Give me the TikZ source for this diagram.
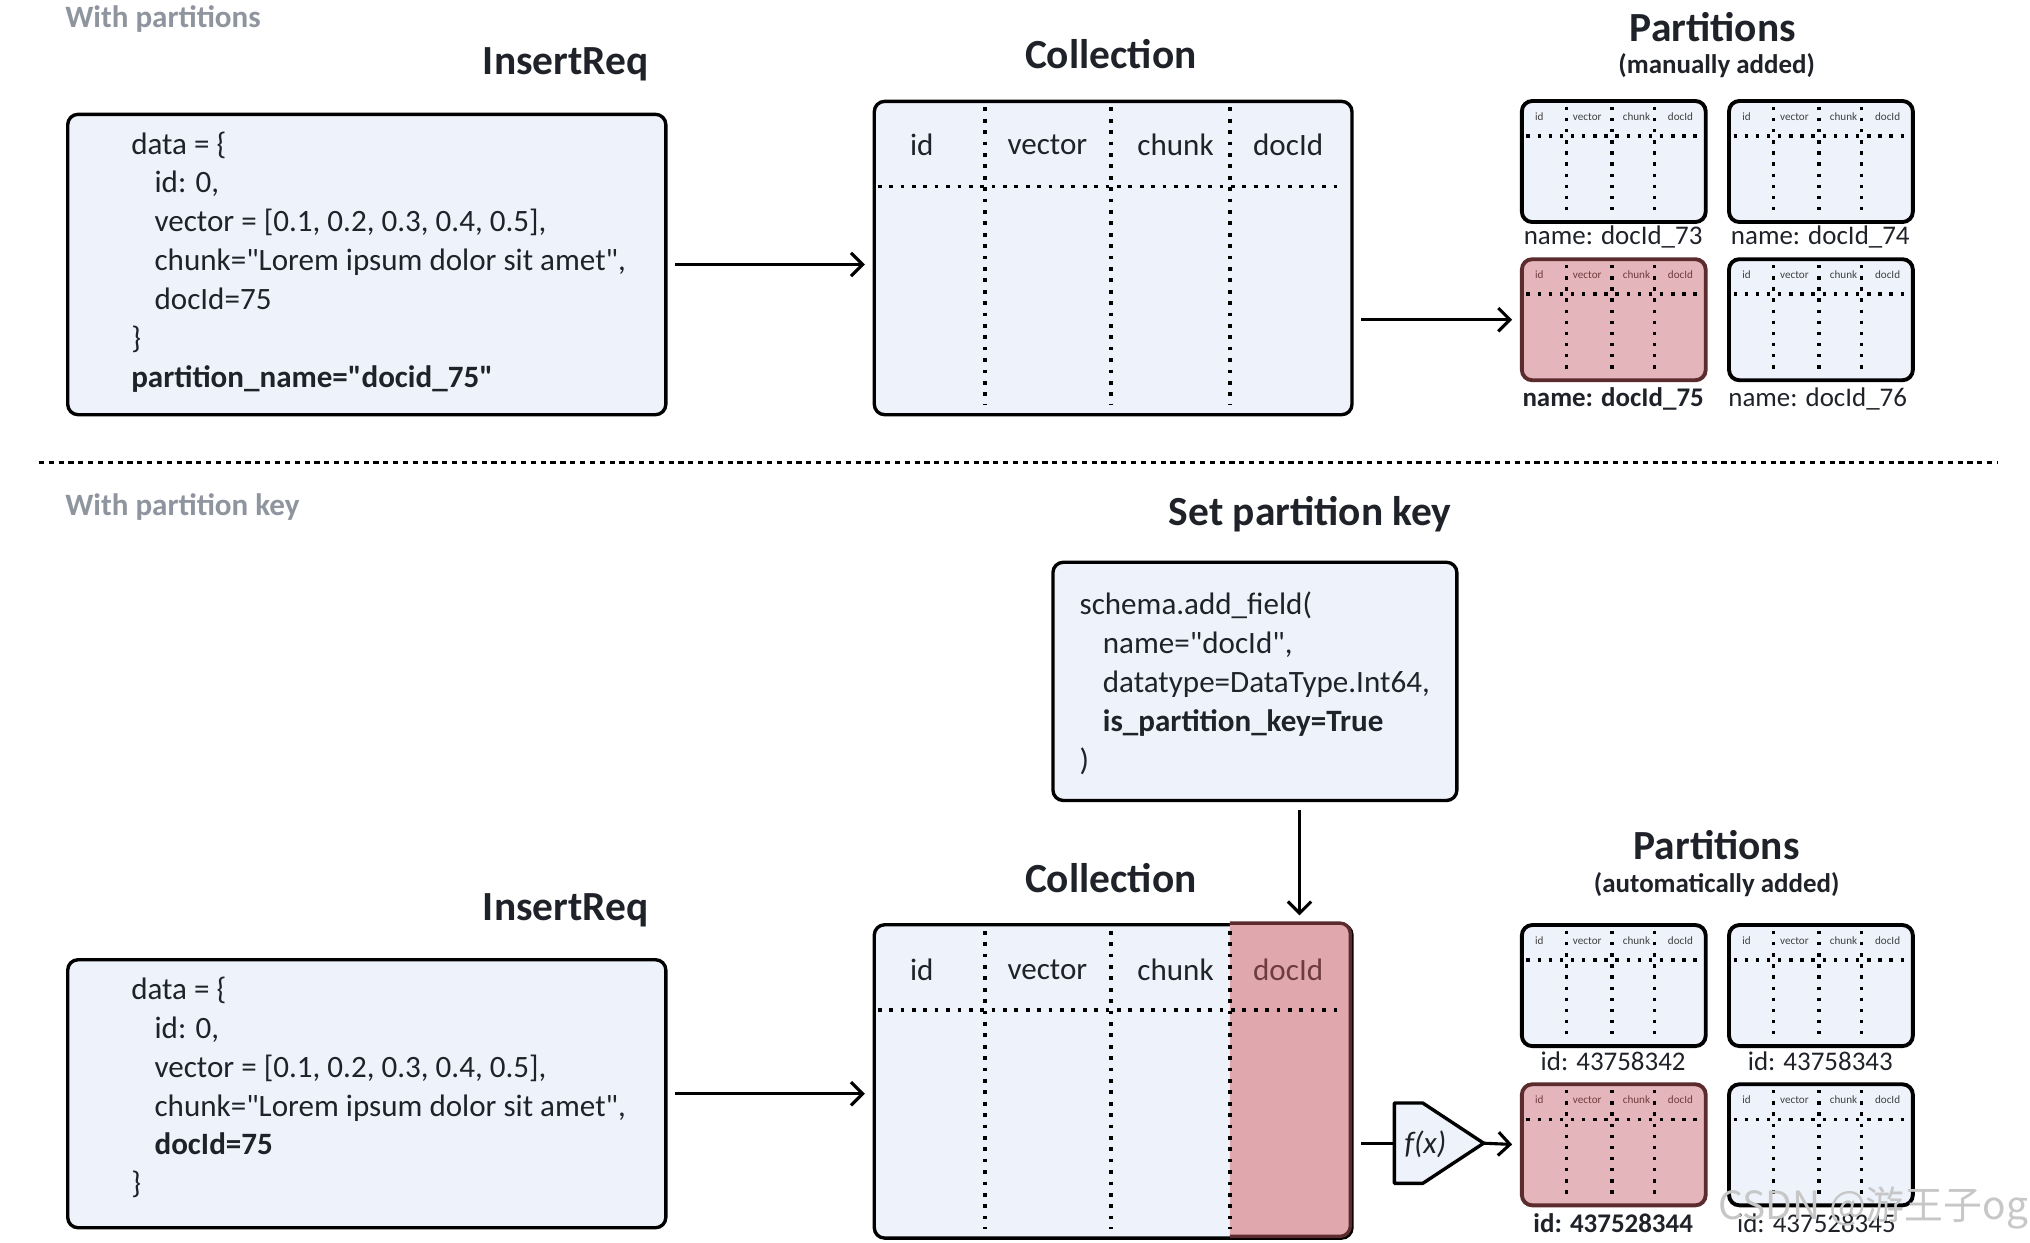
\documentclass[tikz,border=0pt]{standalone}
\usepackage{fontspec}
\setmainfont{Carlito}[Ligatures=TeXOff]
\newfontfamily\cjkfont{Noto Sans CJK SC}
\usetikzlibrary{arrows.meta,calc}
\definecolor{boxblue}{HTML}{EEF2FB}
\definecolor{txtdark}{HTML}{1F2329}
\definecolor{labgray}{HTML}{8F959E}
\definecolor{partpink}{HTML}{E4B6BB}
\definecolor{colpink}{HTML}{E0A8AC}
\definecolor{pinkedge}{HTML}{5C2B2E}
\definecolor{pinktxt}{HTML}{6E3B3E}
\newcommand\codelines[1]{\vtop{\baselineskip=15pt\lineskiplimit=-50pt\lineskip=0pt #1}}
\tikzset{
  cbox/.style={draw=black, fill=boxblue, line width=1.3pt, rounded corners=4pt, inner sep=0pt, anchor=north west},
  head/.style={font=\fontsize{16}{19}\selectfont\bfseries, text=txtdark, inner sep=0pt},
  subhead/.style={font=\fontsize{10.4}{12}\selectfont\bfseries, text=txtdark, inner sep=0pt},
  sect/.style={font=\fontsize{12}{14}\selectfont\bfseries, text=labgray, inner sep=0pt, anchor=west},
  code/.style={font=\fontsize{12}{15}\selectfont, text=txtdark, inner sep=0pt, anchor=base west},
  colhead/.style={font=\fontsize{12}{14}\selectfont, text=txtdark, inner sep=0pt},
  dotl/.style={line width=1.45pt, dash pattern=on 1.45pt off 2.95pt},
  sdot/.style={line width=1.3pt, dash pattern=on 1.3pt off 3pt},
  arr/.style={line width=1.2pt, -{Straight Barb[length=4.5pt,width=9pt]}, shorten <=3pt, shorten >=3pt},
  pbox/.style={draw, line width=1.5pt, rounded corners=4pt, minimum width=71pt, minimum height=46.75pt, inner sep=0pt, anchor=north west},
  pboxblue/.style={fill=boxblue, draw=black},
  pboxpink/.style={fill=partpink, draw=pinkedge},
  tinyt/.style={font=\fontsize{4.3}{5}\selectfont, inner sep=0pt},
  tinytblue/.style={text=black!75},
  tinytpink/.style={text=pinktxt},
  plabel/.style={font=\fontsize{10.4}{12}\selectfont, text=txtdark, inner sep=0pt},
}
\newcommand\mypart[4]{%
  \node[pbox,pbox#4] (#1) at (#2,#3) {};
  \begin{scope}[shift={(#2,#3)}]
    \foreach \tx/\lab/\k in {15/id/a,52/vector/b,90/chunk/c,124/docId/d}{\node[tinyt,tinyt#4] (#1-\k) at (\tx,13.5) {\lab};}
    \foreach \xx in {36,71,104}{\draw[sdot] (\xx,6) -- (\xx,86);}
    \draw[sdot] (5,28.5) -- (137,28.5);
  \end{scope}}
\begin{document}
\begin{tikzpicture}[x=0.5pt,y=-0.5pt]
\useasboundingbox[fill=white] (0,0) rectangle (1568,960);

% section labels and separator
\node[sect] (sec1) at (50,15) {With partitions};
\node[sect] (sec2) at (50,392) {With partition key};
\coordinate (sepL) at (30,357);
\coordinate (sepR) at (1543,357);
\draw[line width=1.3pt, dash pattern=on 2pt off 1.8pt] (sepL) -- (sepR);

% ===== top: InsertReq =====
\node[head] (hins1) at (437,50) {InsertReq};
\node[cbox, minimum width=231pt, minimum height=116pt] (ins1) at (51,87) {};
\node[code] (cins1) at (101,119) {\codelines{%
  \hbox{data = \{}%
  \hbox{\hskip9pt id: 0,}%
  \hbox{\hskip9pt vector = [0.1, 0.2, 0.3, 0.4, 0.5],}%
  \hbox{\hskip9pt chunk="Lorem ipsum dolor sit amet",}%
  \hbox{\hskip9pt docId=75}%
  \hbox{\}}%
  \hbox{\bfseries partition\_name="docid\_75"}}};

% ===== top: Collection =====
\node[head] (hcoll1) at (858,42) {Collection};
\node[cbox, minimum width=184.5pt, minimum height=121pt] (coll1) at (674,77) {};
\foreach \xx in {761,858,950}{\draw[dotl] (\xx,83) -- (\xx,313);}
\draw[dotl] (678,144) -- (1035,144);
\node[colhead] (c1a) at (712,112) {id};
\node[colhead] (c1b) at (809,112) {vector};
\node[colhead] (c1c) at (908,112) {chunk};
\node[colhead] (c1d) at (995,112) {docId};

% ===== top: Partitions =====
\node[head] (hpart1) at (1323,21) {Partitions};
\node[subhead] (spart1) at (1326,51) {(manually added)};
\mypart{p73}{1174}{76.5}{blue}
\mypart{p74}{1334}{76.5}{blue}
\mypart{p75}{1174}{198.7}{pink}
\mypart{p76}{1334}{198.7}{blue}
\node[plabel] (l73) at (1246,183) {name: docId\_73};
\node[plabel] (l74) at (1406,183) {name: docId\_74};
\node[plabel, font=\fontsize{10.4}{12}\selectfont\bfseries] (l75) at (1246,308) {name: docId\_75};
\node[plabel] (l76) at (1404,308) {name: docId\_76};

\draw[arr] (ins1.east) -- (ins1.east -| coll1.west);
\draw[arr] (coll1.east |- p75.west) -- (p75.west);

% ===== bottom: Set partition key =====
\node[head] (hkey) at (1012,397) {Set partition key};
\node[cbox, minimum width=156pt, minimum height=92pt] (key) at (812,433) {};
\node[code] (ckey) at (833.5,475) {\codelines{%
  \hbox{schema.add\_field(}%
  \hbox{\hskip9pt name="docId",}%
  \hbox{\hskip9pt datatype=DataType.Int64,}%
  \hbox{\hskip9pt \bfseries is\_partition\_key=True}%
  \hbox{)}}};

% ===== bottom: InsertReq =====
\node[head] (hins2) at (437,703) {InsertReq};
\node[cbox, minimum width=231pt, minimum height=103.5pt] (ins2) at (51,740) {};
\node[code] (cins2) at (101,772) {\codelines{%
  \hbox{data = \{}%
  \hbox{\hskip9pt id: 0,}%
  \hbox{\hskip9pt vector = [0.1, 0.2, 0.3, 0.4, 0.5],}%
  \hbox{\hskip9pt chunk="Lorem ipsum dolor sit amet",}%
  \hbox{\hskip9pt \bfseries docId=75}%
  \hbox{\}}}};

% ===== bottom: Collection =====
\node[head] (hcoll2) at (858,678) {Collection};
\node[cbox, minimum width=184.5pt, minimum height=121pt] (coll2) at (674,713) {};
\begin{scope}
  \clip (950,700) rectangle (1060,970);
  \fill[colpink, rounded corners=4pt] (674,713) rectangle (1043,955);
  \draw[pinkedge, line width=1.3pt, rounded corners=4pt] (674,713) rectangle (1043,955);
\end{scope}
\foreach \xx in {761,858,950}{\draw[dotl] (\xx,719) -- (\xx,949);}
\draw[dotl] (678,780) -- (1035,780);
\node[colhead] (c2a) at (712,749) {id};
\node[colhead] (c2b) at (809,749) {vector};
\node[colhead] (c2c) at (908,749) {chunk};
\node[colhead, text=pinktxt] (c2d) at (995,749) {docId};

\draw[arr] ([xshift=17.25pt]key.south) -- ([xshift=17.25pt]key.south |- coll2.north);
\draw[arr] (ins2.east) -- (ins2.east -| coll2.west);

% ===== f(x) =====
\coordinate (fxL) at (1077,883);
\coordinate (fxR) at (1146,883);
\draw[fill=boxblue, line width=1.3pt, line join=round] (1077,852) -- (1099,852) -- (fxR) -- (1099,914) -- (1077,914) -- cycle;
\node[font=\fontsize{12}{14}\selectfont\itshape, text=txtdark, inner sep=0pt] (fx) at (1101,884) {f(x)};

% ===== bottom: Partitions =====
\node[head] (hpart2) at (1326,653) {Partitions};
\node[subhead] (spart2) at (1326,683) {(automatically added)};
\mypart{p42}{1174}{713}{blue}
\mypart{p43}{1334}{713}{blue}
\mypart{p44}{1174}{836}{pink}
\mypart{p45}{1334}{836}{blue}
\node[plabel] (l42) at (1246,820) {id: 43758342};
\node[plabel] (l43) at (1406,820) {id: 43758343};
\node[plabel, font=\fontsize{10.4}{12}\selectfont\bfseries] (l44) at (1246,945) {id: 437528344};
\node[plabel] (l45) at (1403,945) {id: 437528345};

\draw[line width=1.2pt, shorten <=3pt] (coll2.east |- fxL) -- (fxL);
\draw[arr, shorten <=0pt] (fxR) -- (p44.west);

% watermark
\node[font=\cjkfont\fontsize{15}{18}\selectfont, text=black!22, inner sep=0pt] (wm) at (1447,933) {CSDN @游王子og};
\end{tikzpicture}
\end{document}
